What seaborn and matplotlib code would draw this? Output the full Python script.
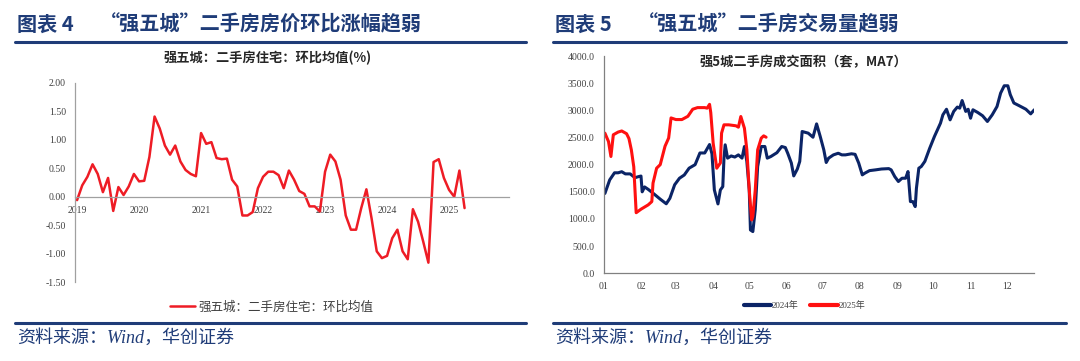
import matplotlib.pyplot as plt
from matplotlib.lines import Line2D
import seaborn as sns
import pandas as pd
import numpy as np

# left panel: monthly MoM average, Jan 2019 .. Apr 2025
years = ['2019', '2020', '2021', '2022', '2023', '2024', '2025']
mom_2019 = [-0.06, 0.20, 0.35, 0.57, 0.40, 0.08, 0.33, -0.25, 0.17, 0.03, 0.18, 0.40]
mom_2020 = [0.27, 0.28, 0.70, 1.41, 1.20, 0.90, 0.74, 0.90, 0.62, 0.47, 0.40, 0.36]
mom_2021 = [1.12, 0.93, 0.96, 0.68, 0.66, 0.67, 0.30, 0.18, -0.33, -0.33, -0.27, 0.15]
mom_2022 = [0.35, 0.44, 0.44, 0.38, 0.15, 0.46, 0.30, 0.10, 0.05, -0.17, -0.17, -0.26]
mom_2023 = [0.44, 0.74, 0.62, 0.30, -0.33, -0.58, -0.58, -0.20, 0.13, -0.38, -0.96, -1.08]
mom_2024 = [-1.04, -0.73, -0.58, -0.96, -1.10, -0.22, -0.44, -0.79, -1.16, 0.61, 0.66, 0.33]
mom_2025 = [0.12, 0.00, 0.46, -0.20]
mom_label = '强五城：二手房住宅：环比均值'

# right panel: daily MA7 second-hand transactions (day of year, value)
days_2024 = [1, 5, 9, 12, 15, 18, 22, 26, 29, 31, 32, 34, 37, 41, 47, 52, 55, 59, 63, 67,
             71, 76, 80, 84, 88, 90, 92, 95, 97, 99, 100, 101, 103, 106, 109, 112, 115, 117, 119, 121,
             122, 124, 126, 128, 131, 134, 136, 139, 144, 148, 151, 153, 156, 158, 161, 163, 165, 170, 174, 177,
             180, 183, 185, 187, 191, 195, 198, 201, 206, 209, 212, 215, 217, 221, 226, 231, 237, 239, 242, 245,
             248, 251, 253, 255, 257, 259, 260, 262, 264, 267, 271, 275, 280, 282, 285, 288, 291, 294, 296, 298,
             301, 303, 305, 307, 311, 315, 319, 323, 327, 330, 333, 336, 338, 341, 345, 351, 355, 358]
vals_2024 = [1470, 1720, 1850, 1850, 1870, 1830, 1830, 1760, 1780, 1790, 1500, 1590, 1545, 1475, 1365, 1280, 1380, 1630, 1750, 1810,
             1935, 2000, 2215, 2215, 2370, 2200, 1535, 1277, 1535, 1596, 2120, 2365, 2120, 2160, 2140, 2180, 2120, 2334, 2060, 1535,
             798, 768, 1170, 1965, 2334, 2334, 2120, 2150, 2220, 2334, 2315, 2210, 2030, 1793, 1920, 2060, 2610, 2580, 2505, 2750,
             2520, 2272, 2040, 2120, 2180, 2210, 2180, 2180, 2200, 2190, 2030, 1812, 1842, 1890, 1904, 1920, 1927, 1904, 1780, 1690,
             1750, 1750, 1873, 1320, 1320, 1228, 1566, 1935, 1965, 2060, 2300, 2520, 2764, 2917, 3020, 2825, 2980, 3060, 3040, 3180,
             2980, 3020, 2855, 3010, 2960, 2900, 2795, 2917, 3070, 3317, 3452, 3452, 3290, 3135, 3090, 3020, 2935, 3010]
days_2025 = [1, 4, 6, 8, 12, 15, 19, 21, 23, 25, 27, 31, 37, 40, 41, 44, 47, 51, 54, 56,
             60, 65, 70, 74, 78, 84, 86, 88, 89, 91, 94, 97, 98, 100, 104, 110, 112, 114, 117, 119,
             121, 123, 124, 126, 128, 131, 133, 135]
vals_2025 = [2580, 2425, 2150, 2550, 2600, 2620, 2570, 2480, 2270, 1960, 1115, 1180, 1260, 1320, 1660, 1935, 2000, 2340, 2490, 2860,
             2830, 2830, 2890, 3020, 3050, 3050, 3040, 3110, 2960, 2396, 1935, 2030, 2580, 2733, 2733, 2715, 2690, 2886, 2670, 2272,
             1535, 982, 1045, 1535, 2272, 2488, 2530, 2505]
month_starts = [0, 31, 60, 91, 121, 152, 182, 213, 244, 274, 305, 335]
month_labels = ['01', '02', '03', '04', '05', '06', '07', '08', '09', '10', '11', '12']

NAVY = '#1F3C78'
RED_L = '#EE1C25'
RED_R = '#FF1010'
DARK = '#0B2466'
CJK = ['Noto Sans CJK SC', 'DejaVu Sans']
SERIF = ['Liberation Serif', 'Noto Sans CJK SC']

sns.set_style('white')
plt.rcParams['font.family'] = CJK
plt.rcParams['axes.unicode_minus'] = False

W, H = 1080, 361
fx = lambda px: px / W
fy = lambda py: 1 - py / H

fig = plt.figure(figsize=(10.8, 3.61), dpi=100)

# header / footer decorations
for x0, x1, head, title in [(15, 526, '图表 4', '“强五城”二手房房价环比涨幅趋弱'),
                            (553, 1066, '图表 5', '“强五城”二手房交易量趋弱')]:
    for yy in (42, 322.5):
        fig.add_artist(Line2D([fx(x0), fx(x1)], [fy(yy), fy(yy)], color=NAVY, lw=2.2,
                              transform=fig.transFigure))
    fig.text(fx(x0 + 2), fy(24), head, fontsize=14.5, weight='bold', color=NAVY, va='center')
    fig.text(fx(x0 + 85), fy(24), title, fontsize=14.5, weight='bold', color=NAVY, va='center')
    fig.text(fx(x0 + 2), fy(338), '资料来源：Wind，华创证券', fontsize=13, style='italic',
             family=SERIF, color=NAVY, va='center')

# ---- left chart
axL = fig.add_axes([fx(75), fy(282), 434 / W, 199 / H])
mom = mom_2019 + mom_2020 + mom_2021 + mom_2022 + mom_2023 + mom_2024 + mom_2025
dfL = pd.DataFrame({'month': np.arange(len(mom)), 'value': mom})
sns.lineplot(data=dfL, x='month', y='value', ax=axL, color=RED_L, linewidth=1.8, label=mom_label)
axL.set_xlim(-0.4, 83.6)
axL.set_ylim(-1.5, 2.0)
axL.set_yticks(np.arange(-1.5, 2.01, 0.5))
axL.set_yticklabels(['%.2f' % v for v in np.arange(-1.5, 2.01, 0.5)])
axL.set_xticks(np.arange(0, 73, 12))
axL.set_xticklabels(years)
axL.set_xlabel('')
axL.set_ylabel('')
axL.spines['bottom'].set_position(('data', 0))
for s in ['top', 'right']:
    axL.spines[s].set_visible(False)
for s in ['left', 'bottom']:
    axL.spines[s].set_color('#A0A0A0')
    axL.spines[s].set_linewidth(0.9)
axL.tick_params(axis='both', which='both', direction='out', length=2.5, width=0.8, color='#A0A0A0',
                labelsize=7, labelcolor='#404040', pad=4)
for t in axL.get_xticklabels() + axL.get_yticklabels():
    t.set_family(SERIF)
axL.legend(loc='center left', bbox_to_anchor=(fx(170), fy(307)), bbox_transform=fig.transFigure,
           frameon=False, fontsize=9, handlelength=2.0, handletextpad=0.3, borderpad=0,
           borderaxespad=0, labelcolor='#404040')
fig.text(fx(268), fy(58), '强五城：二手房住宅：环比均值(%)', fontsize=9.5, weight='bold',
         color='#262626', ha='center', va='center')

# ---- right chart
axR = fig.add_axes([fx(603.7), fy(273.3), 430.6 / W, 217.3 / H])
sns.lineplot(x=days_2024, y=vals_2024, ax=axR, color=DARK, linewidth=2.2, sort=False, label='2024年')
sns.lineplot(x=days_2025, y=vals_2025, ax=axR, color=RED_R, linewidth=2.2, sort=False, label='2025年')
axR.set_xlim(0, 358)
axR.set_ylim(0, 4000)
axR.set_yticks(np.arange(0, 4001, 500))
axR.set_yticklabels(['%.1f' % v for v in np.arange(0, 4001, 500)])
axR.set_xticks(month_starts)
axR.set_xticklabels(month_labels)
for s in ['top', 'right']:
    axR.spines[s].set_visible(False)
for s in ['left', 'bottom']:
    axR.spines[s].set_color('#808080')
    axR.spines[s].set_linewidth(0.9)
axR.tick_params(axis='both', which='both', direction='out', length=2.5, width=0.8, color='#808080',
                labelsize=7, labelcolor='#404040', pad=4)
for t in axR.get_xticklabels() + axR.get_yticklabels():
    t.set_family(SERIF)
handles = [Line2D([], [], color=DARK, lw=3), Line2D([], [], color=RED_R, lw=3)]
axR.legend(handles, ['2024年', '2025年'], loc='center left', bbox_to_anchor=(fx(744), fy(306)),
           bbox_transform=fig.transFigure, ncol=2, frameon=False, fontsize=6.5,
           handlelength=3.0, handletextpad=0.1, columnspacing=1.3, borderpad=0, borderaxespad=0,
           labelcolor='#404040', prop={'family': SERIF, 'size': 6.5})
fig.text(fx(803), fy(62), '强5城二手房成交面积（套，MA7）', fontsize=9.5, weight='bold',
         color='#262626', ha='center', va='center')

fig.savefig('out.png', dpi=100)
